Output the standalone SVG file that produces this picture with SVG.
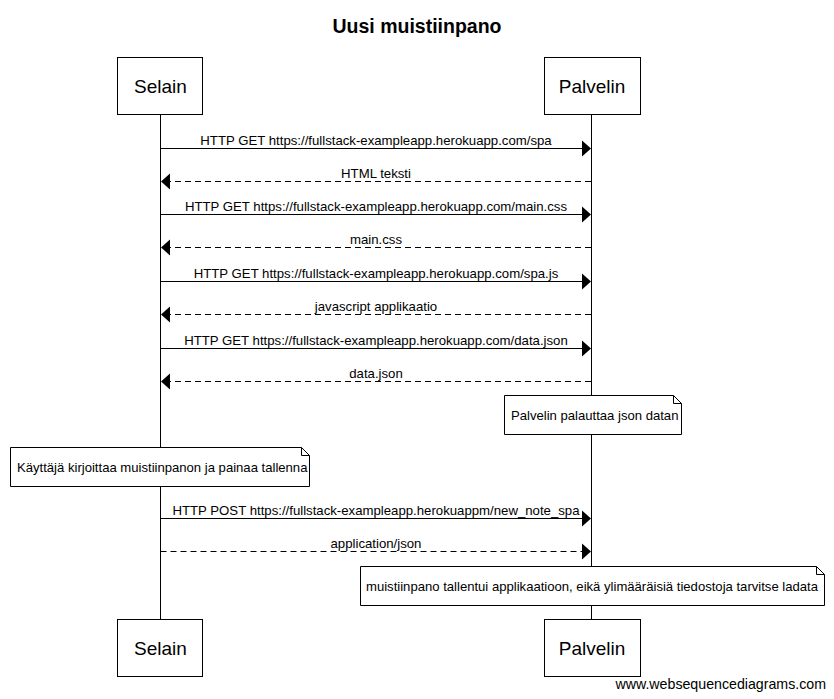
<svg xmlns="http://www.w3.org/2000/svg" width="834" height="699" viewBox="0 0 834 699">
<style>
.t{font-family:"Liberation Sans",Arial,sans-serif;fill:#000}
.title{font-size:19.5px;font-weight:bold;text-anchor:middle}
.actor{font-size:19px;text-anchor:middle}
.msg{font-size:13.2px;text-anchor:middle}
.note{font-size:13.1px}
.box{fill:#fff;stroke:#000;stroke-width:1}
.life{stroke:#000;stroke-width:1}
.solid{stroke:#000;stroke-width:1;fill:none}
.dash{stroke:#000;stroke-width:1;fill:none;stroke-dasharray:6,4}
.head{fill:#000}
</style>
<rect width="834" height="699" fill="#fff"/>
<text class="t title" x="417" y="33">Uusi muistiinpano</text>
<g id="lifelines">
<line class="life" x1="160.5" y1="114" x2="160.5" y2="619"/>
<line class="life" x1="591.5" y1="114" x2="591.5" y2="619"/>
</g>
<g id="selain-top"><rect class="box" x="117.5" y="57.5" width="85" height="57"/><text class="t actor" x="160.5" y="93">Selain</text></g>
<g id="palvelin-top"><rect class="box" x="544.5" y="57.5" width="96" height="57"/><text class="t actor" x="592" y="93">Palvelin</text></g>
<g id="selain-bottom"><rect class="box" x="117.5" y="619.5" width="85" height="57"/><text class="t actor" x="160.5" y="655">Selain</text></g>
<g id="palvelin-bottom"><rect class="box" x="544.5" y="619.5" width="96" height="57"/><text class="t actor" x="592" y="655">Palvelin</text></g>
<g id="connectors">
<line class="solid" x1="160.5" y1="148.5" x2="582" y2="148.5"/><polygon class="head" points="582,140.5 591,148.5 582,156.5"/>
<text class="t msg" x="376" y="145">HTTP GET https://fullstack-exampleapp.herokuapp.com/spa</text>
<line class="dash" x1="591" y1="181.5" x2="170" y2="181.5"/><polygon class="head" points="170,173.5 161,181.5 170,189.5"/>
<text class="t msg" x="376" y="178">HTML teksti</text>
<line class="solid" x1="160.5" y1="214.5" x2="582" y2="214.5"/><polygon class="head" points="582,206.5 591,214.5 582,222.5"/>
<text class="t msg" x="376" y="211">HTTP GET https://fullstack-exampleapp.herokuapp.com/main.css</text>
<line class="dash" x1="591" y1="247.5" x2="170" y2="247.5"/><polygon class="head" points="170,239.5 161,247.5 170,255.5"/>
<text class="t msg" x="376" y="244">main.css</text>
<line class="solid" x1="160.5" y1="281.5" x2="582" y2="281.5"/><polygon class="head" points="582,273.5 591,281.5 582,289.5"/>
<text class="t msg" x="376" y="278">HTTP GET https://fullstack-exampleapp.herokuapp.com/spa.js</text>
<line class="dash" x1="591" y1="314.5" x2="170" y2="314.5"/><polygon class="head" points="170,306.5 161,314.5 170,322.5"/>
<text class="t msg" x="376" y="311">javascript applikaatio</text>
<line class="solid" x1="160.5" y1="348.5" x2="582" y2="348.5"/><polygon class="head" points="582,340.5 591,348.5 582,356.5"/>
<text class="t msg" x="376" y="345">HTTP GET https://fullstack-exampleapp.herokuapp.com/data.json</text>
<line class="dash" x1="591" y1="381.5" x2="170" y2="381.5"/><polygon class="head" points="170,373.5 161,381.5 170,389.5"/>
<text class="t msg" x="376" y="378">data.json</text>
<line class="solid" x1="160.5" y1="518.5" x2="582" y2="518.5"/><polygon class="head" points="582,510.5 591,518.5 582,526.5"/>
<text class="t msg" x="376" y="515">HTTP POST https://fullstack-exampleapp.herokuappm/new_note_spa</text>
<line class="dash" x1="160.5" y1="551.5" x2="582" y2="551.5"/><polygon class="head" points="582,543.5 591,551.5 582,559.5"/>
<text class="t msg" x="376" y="548">application/json</text>
</g>
<g id="note-palvelin">
<path class="box" d="M504.5,395.5 H673.5 L681.5,403.5 V434.5 H504.5 Z"/><path class="solid" d="M673.5,395.5 V403.5 H681.5"/>
<text class="t note" x="511" y="420">Palvelin palauttaa json datan</text>
</g>
<g id="note-kayttaja">
<path class="box" d="M10.5,447.5 H301.5 L309.5,455.5 V486.5 H10.5 Z"/><path class="solid" d="M301.5,447.5 V455.5 H309.5"/>
<text class="t note" x="17" y="472">Käyttäjä kirjoittaa muistiinpanon ja painaa tallenna</text>
</g>
<g id="note-tallentui">
<path class="box" d="M360.5,566.5 H816.5 L824.5,574.5 V605.5 H360.5 Z"/><path class="solid" d="M816.5,566.5 V574.5 H824.5"/>
<text class="t note" x="366" y="591">muistiinpano tallentui applikaatioon, eikä ylimääräisiä tiedostoja tarvitse ladata</text>
</g>
<text class="t" x="826" y="689" font-size="14.2" text-anchor="end">www.websequencediagrams.com</text>
</svg>
